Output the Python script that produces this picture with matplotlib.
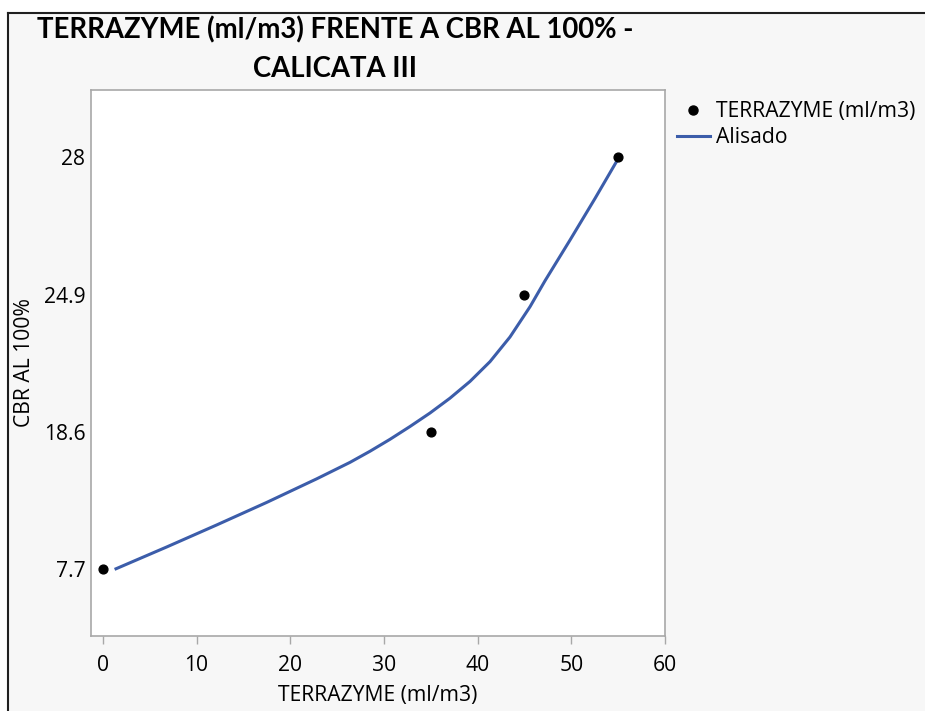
import matplotlib
matplotlib.use("Agg")
import matplotlib.pyplot as plt
from matplotlib.lines import Line2D
import numpy as np

# data points
terrazyme = [0, 35, 45, 55]
cbr = [7.7, 18.6, 24.9, 28]

# smoothing curve
smooth_x = [1.39, 6.80, 12.14, 17.48, 22.81, 26.37, 28.50, 30.64, 32.77, 34.91,
            37.04, 39.18, 41.32, 43.45, 45.59, 47.19, 49.86, 52.53, 55.01]
smooth_cbr = [7.72, 9.45, 11.20, 12.99, 14.86, 16.17, 17.05, 18.00, 18.84, 19.46,
              20.14, 20.91, 21.82, 22.95, 24.34, 25.21, 26.13, 27.07, 27.97]

x_ticks = [0, 10, 20, 30, 40, 50, 60]
y_tick_labels = ["7.7", "18.6", "24.9", "28"]

# y axis in the original is ordinal: each CBR value sits one step apart
y_pos = np.arange(len(cbr))
smooth_pos = np.interp(smooth_cbr, cbr, y_pos)

plt.rcParams['font.family'] = ['Open Sans', 'DejaVu Sans']
FS = 15.2

fig = plt.figure(figsize=(9.25, 7.11), dpi=100)
fig.patch.set_facecolor("white")
# grey panel + dark frame lines (left and top)
fig.patches.append(plt.Rectangle((9/925, 0), 1, 1 - 14/711, transform=fig.transFigure,
                                 facecolor="#f7f7f7", edgecolor="none", zorder=-10))
fig.lines.append(Line2D([8/925, 8/925], [0, 1 - 13/711], transform=fig.transFigure,
                        color="#202020", lw=1.5))
fig.lines.append(Line2D([8/925, 1], [1 - 13/711, 1 - 13/711], transform=fig.transFigure,
                        color="#202020", lw=1.5))

ax = fig.add_axes([91/925, 75/711, 574/925, 546/711])
ax.set_facecolor("white")

ax.plot(smooth_x, smooth_pos, color="#3c5daa", lw=2.2, label="Alisado", zorder=2)
ax.scatter(terrazyme, y_pos, s=40, color="black", label="TERRAZYME (ml/m3)", zorder=3)

ax.set_xlim(-1.28, 60)
ax.set_ylim(-0.488, 3.49)
ax.set_xticks(x_ticks)
ax.set_yticks(y_pos, labels=y_tick_labels)

for s in ax.spines.values():
    s.set_color("#a8a8a8")
    s.set_linewidth(1.2)
ax.tick_params(axis="x", length=6, width=1, color="#a8a8a8", labelsize=FS, pad=8)
ax.tick_params(axis="y", length=0, labelsize=FS, pad=4)

ax.set_xlabel("TERRAZYME (ml/m3)", fontsize=FS, labelpad=6)
ax.set_ylabel("CBR AL 100%", fontsize=FS, labelpad=6)

fig.text(335/925, 1 - 30/711, "TERRAZYME (ml/m3) FRENTE A CBR AL 100% -",
         ha="center", va="center", fontsize=19.8, fontweight="bold", family=["Lato", "DejaVu Sans"])
fig.text(335/925, 1 - 69/711, "CALICATA III",
         ha="center", va="center", fontsize=19.8, fontweight="bold", family=["Lato", "DejaVu Sans"])

h_pt = Line2D([], [], marker="o", color="black", ls="none", markersize=6.5)
h_ln = Line2D([], [], color="#3c5daa", lw=2.2)
fig.legend([h_pt, h_ln], ["TERRAZYME (ml/m3)", "Alisado"], loc="upper left",
           bbox_to_anchor=(677/925, 1 - 101/711), frameon=False, fontsize=FS,
           handlelength=1.55, handletextpad=0.3, labelspacing=0.25, borderpad=0,
           borderaxespad=0)

fig.savefig("out.png", dpi=100)
